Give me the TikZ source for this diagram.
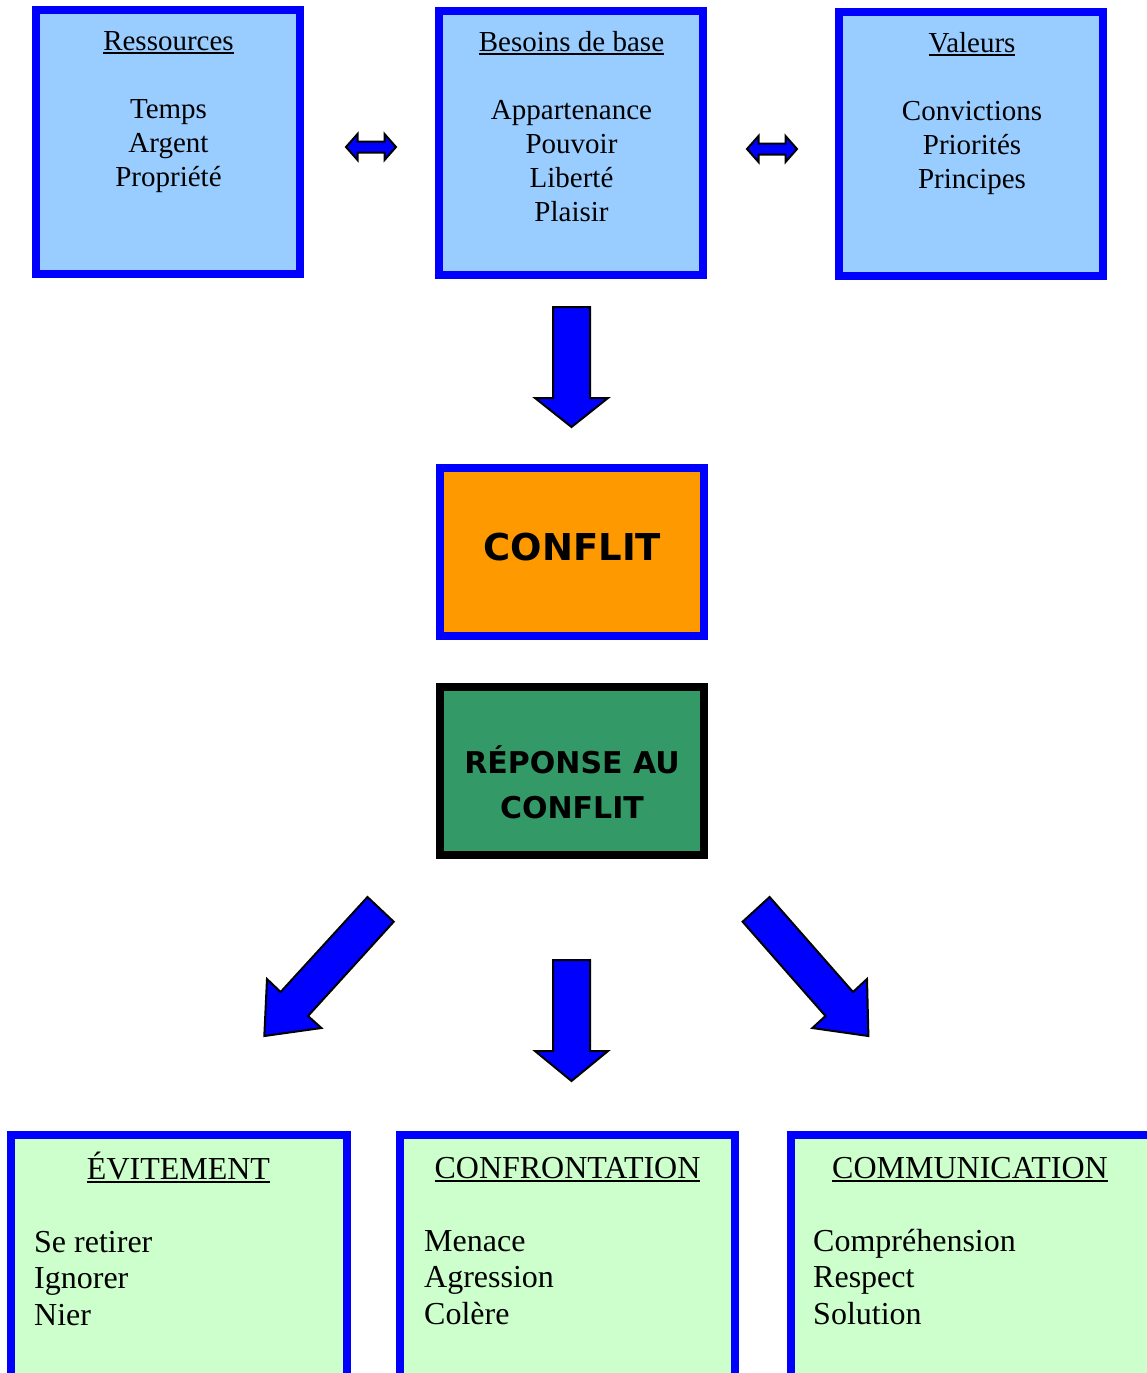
\documentclass[tikz,border=0pt]{standalone}
\usepackage{fontspec}
\setmainfont{Liberation Serif}
\newfontfamily\comicfont{DejaVu Sans}
\definecolor{bordblue}{HTML}{0000FF}
\definecolor{topfill}{HTML}{99CCFF}
\definecolor{botfill}{HTML}{CCFFCC}
\definecolor{orangefill}{HTML}{FF9900}
\definecolor{greenfill}{HTML}{339966}
\newcommand\ulin[1]{\setbox0=\hbox{#1}\rlap{\rule[-3.5pt]{\wd0}{1.6pt}}\box0}
\tikzset{
  topbox/.style={draw=bordblue, fill=topfill, line width=8pt, minimum width=264pt, minimum height=264pt, inner sep=0pt},
  botbox/.style={draw=bordblue, fill=botfill, line width=8pt, minimum height=250pt, inner sep=0pt, outer sep=0pt},
  midbox/.style={line width=8pt, minimum width=264pt, minimum height=168pt, inner sep=0pt},
  toptext/.style={anchor=base, inner sep=0pt, font=\fontsize{29}{34}\selectfont},
  bottext/.style={inner sep=0pt, font=\fontsize{32}{36.5}\selectfont},
  blockarrow/.style={fill=bordblue, draw=black, line width=2pt, line join=miter}
}
\begin{document}
\begin{tikzpicture}[x=1pt, y=-1pt]
\useasboundingbox (0,0) rectangle (1146,1373);

% top boxes
\node[topbox] (res) at (168,142) {};
\node[topbox] (bes) at (571,142.5) {};
\node[topbox] (val) at (971,144) {};
\node[toptext] (restxt) at (168.5,50) {\begin{tabular}[t]{@{}c@{}}\ulin{Ressources}\\ \\ Temps\\ Argent\\ Propriété\end{tabular}};
\node[toptext] (bestxt) at (571.5,51) {\begin{tabular}[t]{@{}c@{}}\ulin{Besoins de base}\\ \\ Appartenance\\ Pouvoir\\ Liberté\\ Plaisir\end{tabular}};
\node[toptext] (valtxt) at (972,52) {\begin{tabular}[t]{@{}c@{}}\ulin{Valeurs}\\ \\ Convictions\\ Priorités\\ Principes\end{tabular}};

% double arrows
\draw[blockarrow] (346,147) -- (357.5,134) -- (357.5,141.5) -- (384.5,141.5) -- (384.5,134) -- (396,147) -- (384.5,160) -- (384.5,152.5) -- (357.5,152.5) -- (357.5,160) -- cycle;
\draw[blockarrow] (747,149) -- (758.5,136) -- (758.5,143.5) -- (785.5,143.5) -- (785.5,136) -- (797,149) -- (785.5,162) -- (785.5,154.5) -- (758.5,154.5) -- (758.5,162) -- cycle;

% down arrow to conflit
\draw[blockarrow] (553,307) -- (590,307) -- (590,398) -- (608,398) -- (571.5,427) -- (535,398) -- (553,398) -- cycle;

% conflit boxes
\node[midbox, draw=bordblue, fill=orangefill] (conf) at (572,552) {};
\node[anchor=base, inner sep=0pt, font=\comicfont\fontsize{37}{40}\selectfont\bfseries] (conftxt) at (572.5,560) {CONFLIT};
\node[midbox, draw=black, fill=greenfill] (rep) at (572,770.5) {};
\node[anchor=base, inner sep=0pt, font=\comicfont\fontsize{30}{45}\selectfont\bfseries] (reptxt) at (572,773) {\begin{tabular}[t]{@{}c@{}}RÉPONSE AU\\ CONFLIT\end{tabular}};

% three arrows
\draw[blockarrow] (367.5,897) -- (393.7,921.7) -- (308,1016) -- (321.4,1028) -- (264.3,1036) -- (267,979) -- (280.6,992) -- cycle;
\draw[blockarrow] (553,960) -- (590,960) -- (590,1051) -- (608,1051) -- (571.5,1081) -- (535,1051) -- (553,1051) -- cycle;
\draw[blockarrow] (769.6,897) -- (853,992) -- (867,979) -- (868.4,1036) -- (812.4,1028) -- (825.5,1016) -- (742.6,921.7) -- cycle;

% bottom boxes
\node[botbox, minimum width=336pt, anchor=north west] (evit) at (11,1135) {};
\node[botbox, minimum width=335pt, anchor=north west] (confr) at (400,1135) {};
\node[botbox, minimum width=366pt, anchor=north west] (comm) at (791,1135) {};

\node[bottext, anchor=base] (evith) at (178.5,1179) {\ulin{ÉVITEMENT}};
\node[bottext, anchor=base west] (eviti) at (34,1252) {\begin{tabular}[t]{@{}l@{}}Se retirer\\ Ignorer\\ Nier\end{tabular}};
\node[bottext, anchor=base] (confrh) at (567.5,1178) {\ulin{CONFRONTATION}};
\node[bottext, anchor=base west] (confri) at (424,1251) {\begin{tabular}[t]{@{}l@{}}Menace\\ Agression\\ Colère\end{tabular}};
\node[bottext, anchor=base] (commh) at (970,1178) {\ulin{COMMUNICATION}};
\node[bottext, anchor=base west] (commi) at (813,1251) {\begin{tabular}[t]{@{}l@{}}Compréhension\\ Respect\\ Solution\end{tabular}};
\end{tikzpicture}
\end{document}
